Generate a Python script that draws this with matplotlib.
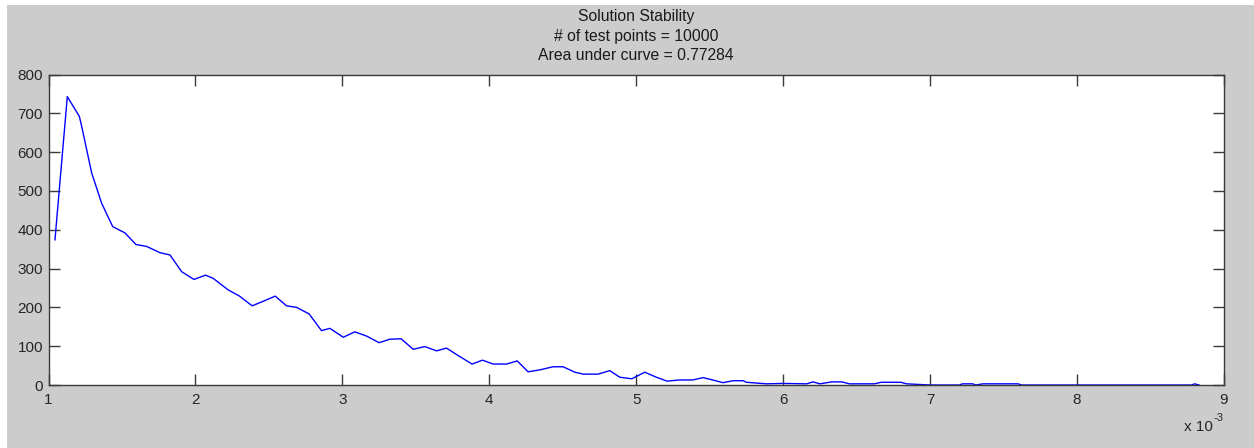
import matplotlib
matplotlib.use("Agg")
import matplotlib.pyplot as plt
from matplotlib.patches import Rectangle

# x values in units of 1e-3
x_vals = [1.044, 1.128, 1.21, 1.226, 1.294, 1.362, 1.437, 1.52, 1.595, 1.668,
          1.758, 1.827, 1.906, 1.99, 2.069, 2.12, 2.223, 2.30, 2.386, 2.457,
          2.543, 2.62, 2.688, 2.774, 2.858, 2.915, 3.006, 3.085, 3.165, 3.25,
          3.323, 3.40, 3.482, 3.561, 3.641, 3.709, 3.80, 3.883, 3.954, 4.026,
          4.117, 4.19, 4.264, 4.344, 4.434, 4.502, 4.582, 4.638, 4.74, 4.82,
          4.888, 4.97, 5.058, 5.137, 5.21, 5.295, 5.385, 5.455, 5.52, 5.59,
          5.659, 5.727, 5.75, 5.886, 6.0, 6.16, 6.203, 6.25, 6.33, 6.40,
          6.45, 6.62, 6.667, 6.80, 6.84, 7.0, 7.2, 7.22, 7.29, 7.31,
          7.36, 7.6, 7.62, 8.78, 8.80, 8.83]
counts = [374, 743, 692, 666, 546, 468, 408, 392, 362, 357,
          341, 335, 292, 272, 283, 275, 245, 229, 204, 215,
          229, 204, 200, 183, 140, 146, 123, 137, 126, 109,
          118, 119, 92, 99, 88, 95, 73, 54, 64, 54,
          54, 62, 34, 39, 47, 47, 33, 28, 28, 37,
          20, 16, 33, 20, 10, 13, 13, 19, 13, 6,
          11, 11, 7, 3, 4, 3, 8, 3, 8, 8,
          3, 3, 7, 7, 3, 0, 0, 3, 3, 0,
          3, 3, 0, 0, 3, 0]

x_ticks = [1, 2, 3, 4, 5, 6, 7, 8, 9]
y_ticks = [0, 100, 200, 300, 400, 500, 600, 700, 800]
title_lines = ["Solution Stability", "# of test points = 10000", "Area under curve = 0.77284"]

plt.rcParams['font.family'] = ['Liberation Sans', 'DejaVu Sans']

W, H = 1254, 448
fig = plt.figure(figsize=(W / 100, H / 100), dpi=100, facecolor='#cccccc')
# thin white margins at the left and top of the picture
fig.patches.append(Rectangle((0, 0), 7 / W, 1, transform=fig.transFigure,
                             facecolor='white', edgecolor='none'))
fig.patches.append(Rectangle((0, 1 - 5 / H), 1, 5 / H, transform=fig.transFigure,
                             facecolor='white', edgecolor='none'))

ax = fig.add_axes([48.5 / W, (H - 385) / H, (1224 - 48.5) / W, (385 - 74.5) / H])
ax.set_facecolor('white')
ax.plot(x_vals, counts, color='#0000ff', lw=1.0)
ax.set_xlim(1, 9)
ax.set_ylim(0, 800)
ax.set_xticks(x_ticks)
ax.set_yticks(y_ticks)
ax.set_xticklabels([str(t) for t in x_ticks])
ax.set_yticklabels([str(t) for t in y_ticks])
ax.tick_params(direction='in', length=8, width=1.0, color='#3a3a3a',
               top=True, right=True, labelsize=11, labelcolor='#262626', pad=4)
ax.tick_params(axis='x', pad=6)
for s in ax.spines.values():
    s.set_color('#3a3a3a')
    s.set_linewidth(1.0)

# title (three lines) centered over axes
cx = (48.5 + 1224) / 2 / W
for txt, yy in zip(title_lines, [17, 37, 56]):
    fig.text(cx, 1 - yy / H, txt, ha='center', va='center', fontsize=11.3, color='#1a1a1a')

# MATLAB style exponent label
fig.text(1213 / W, 1 - 427 / H, "x 10", ha='right', va='center', fontsize=11, color='#262626')
fig.text(1214 / W, 1 - 418 / H, "-3", ha='left', va='center', fontsize=8, color='#262626')

fig.savefig("out.png", dpi=100, facecolor=fig.get_facecolor())
